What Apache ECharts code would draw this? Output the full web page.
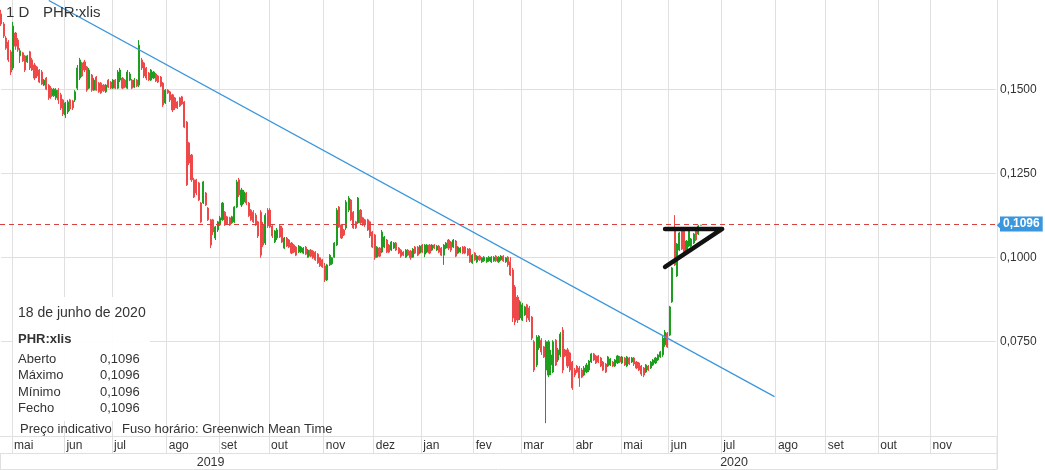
<!DOCTYPE html>
<html><head><meta charset="utf-8">
<script src="https://cdn.jsdelivr.net/npm/echarts@6/dist/echarts.min.js"></script>
<style>html,body{margin:0;padding:0;background:#fff}#c{width:1045px;height:470px}</style>
</head><body><div id="c"></div>
<script>
// ---- data ----
const firstDay = '2019-04-24';
const totalDays = 419; // trading days shown on the axis (data + future)
const holidays = ['2019-05-01','2019-12-25','2019-12-26','2020-01-01','2020-04-10','2020-04-13','2020-05-01'];
const monthNames = ['jan','fev','mar','abr','mai','jun','jul','ago','set','out','nov','dez'];
const lastMonthLabel = '2020-11';
const yTicks = [0.075, 0.1, 0.125, 0.15];
const yearLabelDates = ['2019-08-27', '2020-07-08'];

const openP = [
.1725,.1695,.1653,.1641,.1612,.1564,.1668,.1647,.1600,.1609,
.1600,.1582,.1612,.1588,.1573,.1567,.1558,.1552,.1513,.1534,
.1513,.1504,.1481,.1475,.1498,.1484,.1469,.1424,.1433,.1469,
.1466,.1469,.1504,.1534,.1579,.1582,.1567,.1504,.1543,.1498,
.1537,.1519,.1519,.1513,.1493,.1528,.1522,.1504,.1528,.1504,
.1528,.1534,.1528,.1504,.1528,.1528,.1507,.1528,.1513,.1588,
.1579,.1564,.1549,.1528,.1534,.1546,.1540,.1537,.1519,.1460,
.1498,.1493,.1484,.1475,.1463,.1475,.1478,.1463,.1403,.1341,
.1305,.1231,.1231,.1222,.1162,.1162,.1192,.1147,.1112,.1112,
.1058,.1082,.1097,.1112,.1135,.1121,.1118,.1103,.1106,.1150,
.1231,.1156,.1165,.1192,.1162,.1141,.1135,.1126,.1106,.1135,
.1097,.1043,.1141,.1141,.1094,.1046,.1058,.1094,.1088,.1028,
.1058,.1052,.1043,.1037,.1031,.1016,.1016,.1013,.1031,.1001,
.1022,.1019,.1016,.1010,.0999,.0993,.0975,.0933,.0978,.0981,
.1001,.1037,.1150,.1097,.1082,.1088,.1141,.1171,.1135,.1106,
.1103,.1141,.1118,.1112,.1112,.1106,.1076,.1067,.1001,.1028,
.1016,.1031,.1052,.1037,.1022,.1028,.1043,.1028,.1022,.1016,
.1001,.1022,.1019,.1001,.1031,.1031,.1013,.1037,.1010,.1016,
.1037,.1022,.1037,.1022,.1034,.1028,.1007,.1028,.1052,.1046,
.1031,.1049,.1013,.1016,.1031,.1031,.1025,.1025,.0984,.1013,
.0987,.1004,.0987,.0990,.0987,.0990,.0987,.0990,.1004,.0987,
.0993,.1004,.0987,.1001,.0987,.0963,.0912,.0882,.0820,.0814,
.0829,.0859,.0850,.0823,.0749,.0680,.0731,.0754,.0734,.0665,
.0650,.0680,.0659,.0754,.0695,.0710,.0784,.0725,.0725,.0716,
.0689,.0665,.0677,.0671,.0665,.0650,.0659,.0665,.0689,.0713,
.0707,.0707,.0701,.0689,.0683,.0677,.0680,.0689,.0677,.0686,
.0704,.0686,.0701,.0677,.0701,.0689,.0701,.0689,.0686,.0677,
.0671,.0659,.0677,.0671,.0680,.0686,.0695,.0704,.0710,.0740,
.0775,.0769,.0868,.1082,.0945,.1022,.1079,.1079,.1016,.1034,
.1034,.1043,.1079,.1070,.1096];

const closeP = [
.1695,.1659,.1623,.1588,.1552,.1689,.1629,.1618,.1615,.1585,
.1558,.1600,.1564,.1558,.1534,.1540,.1522,.1516,.1528,.1501,
.1475,.1478,.1501,.1498,.1469,.1445,.1427,.1460,.1463,.1442,
.1445,.1493,.1564,.1588,.1540,.1558,.1498,.1558,.1498,.1528,
.1498,.1493,.1490,.1496,.1513,.1507,.1504,.1528,.1504,.1552,
.1558,.1504,.1507,.1552,.1546,.1504,.1528,.1510,.1632,.1564,
.1540,.1534,.1528,.1558,.1552,.1525,.1522,.1510,.1454,.1498,
.1490,.1469,.1439,.1445,.1445,.1451,.1457,.1388,.1216,.1281,
.1231,.1180,.1192,.1171,.1106,.1225,.1156,.1112,.1037,.1076,
.1091,.1106,.1118,.1162,.1097,.1100,.1097,.1121,.1150,.1225,
.1186,.1201,.1195,.1162,.1124,.1112,.1106,.1097,.1064,.1007,
.1037,.1126,.1094,.1091,.1064,.1079,.1082,.1061,.1046,.1058,
.1034,.1031,.1013,.1016,.1007,.1034,.1031,.1028,.1010,.1022,
.1004,.0999,.0993,.0984,.0975,.0972,.0933,.0978,.1007,.0999,
.1043,.1141,.1091,.1058,.1067,.1165,.1177,.1112,.1088,.1088,
.1177,.1103,.1097,.1097,.1082,.1064,.1031,.0999,.1031,.1004,
.1076,.1061,.1016,.1016,.1046,.1043,.1022,.1013,.1004,.1007,
.1022,.1007,.0999,.1025,.1013,.1007,.1034,.1016,.1037,.1037,
.1013,.1037,.1028,.1034,.1016,.1007,.1037,.1043,.1028,.1022,
.1052,.1004,.1031,.1028,.1013,.1013,.1007,.0987,.1007,.0993,
.1004,.0993,.0999,.1001,.0999,.1001,.1001,.1001,.0990,.1001,
.1004,.0990,.0999,.0978,.0948,.0820,.0808,.0814,.0868,.0859,
.0853,.0820,.0814,.0760,.0665,.0763,.0766,.0719,.0704,.0749,
.0749,.0710,.0749,.0680,.0725,.0772,.0665,.0707,.0677,.0665,
.0612,.0650,.0659,.0641,.0644,.0671,.0680,.0692,.0713,.0695,
.0686,.0689,.0677,.0665,.0659,.0704,.0698,.0677,.0695,.0707,
.0689,.0704,.0680,.0704,.0683,.0701,.0683,.0671,.0665,.0653,
.0650,.0680,.0665,.0689,.0695,.0701,.0710,.0719,.0760,.0778,
.0734,.0853,.0969,.0978,.1040,.1073,.1025,.1016,.1049,.1079,
.1055,.1070,.1052,.1094,.1096];

const lowP = [
.1689,.1653,.1618,.1582,.1543,.1558,.1618,.1612,.1579,.1582,
.1552,.1579,.1558,.1555,.1528,.1534,.1519,.1513,.1510,.1498,
.1469,.1472,.1478,.1469,.1457,.1439,.1421,.1415,.1427,.1436,
.1439,.1463,.1498,.1528,.1537,.1552,.1493,.1501,.1493,.1496,
.1496,.1490,.1487,.1493,.1490,.1504,.1501,.1501,.1501,.1501,
.1522,.1501,.1504,.1501,.1525,.1501,.1504,.1507,.1507,.1558,
.1534,.1528,.1525,.1525,.1531,.1522,.1519,.1507,.1448,.1457,
.1487,.1463,.1433,.1439,.1442,.1448,.1454,.1385,.1213,.1275,
.1225,.1177,.1186,.1168,.1103,.1159,.1153,.1109,.1028,.1067,
.1052,.1076,.1094,.1109,.1094,.1097,.1094,.1100,.1103,.1147,
.1180,.1150,.1159,.1156,.1121,.1109,.1103,.1094,.1058,.0999,
.1031,.1037,.1088,.1088,.1058,.1043,.1052,.1058,.1043,.1025,
.1031,.1028,.1010,.1013,.1004,.1013,.1013,.1010,.1007,.0999,
.1001,.0996,.0990,.0981,.0972,.0969,.0927,.0930,.0975,.0978,
.0999,.1034,.1088,.1055,.1064,.1082,.1135,.1109,.1085,.1085,
.1100,.1100,.1094,.1091,.1079,.1058,.1028,.0993,.0999,.1001,
.1013,.1028,.1013,.1013,.1019,.1025,.1019,.1010,.0999,.1004,
.0999,.1004,.0993,.0999,.1010,.1004,.1010,.1013,.1001,.1013,
.1010,.1019,.1025,.1019,.1013,.1004,.0978,.1025,.1022,.1016,
.1028,.1001,.1010,.1013,.1010,.1010,.1004,.0984,.0981,.0990,
.0984,.0990,.0984,.0987,.0984,.0987,.0984,.0987,.0987,.0984,
.0990,.0987,.0984,.0972,.0945,.0808,.0799,.0805,.0814,.0811,
.0826,.0808,.0808,.0754,.0659,.0674,.0725,.0710,.0701,.0507,
.0644,.0650,.0656,.0677,.0689,.0704,.0656,.0704,.0671,.0659,
.0606,.0644,.0656,.0615,.0641,.0647,.0656,.0659,.0686,.0692,
.0683,.0686,.0674,.0662,.0656,.0674,.0677,.0674,.0674,.0683,
.0686,.0683,.0677,.0674,.0680,.0686,.0677,.0668,.0662,.0647,
.0644,.0656,.0662,.0668,.0677,.0683,.0692,.0701,.0704,.0734,
.0731,.0766,.0865,.0975,.0942,.1019,.1022,.1013,.1013,.1031,
.1031,.1040,.1049,.1067,.1096];

const highP = [
.1737,.1701,.1659,.1647,.1618,.1701,.1671,.1653,.1623,.1612,
.1603,.1603,.1615,.1594,.1579,.1570,.1561,.1558,.1531,.1537,
.1516,.1510,.1504,.1504,.1504,.1490,.1472,.1463,.1469,.1472,
.1469,.1498,.1573,.1594,.1582,.1588,.1570,.1564,.1546,.1534,
.1540,.1522,.1522,.1516,.1516,.1531,.1525,.1531,.1531,.1558,
.1564,.1537,.1531,.1558,.1552,.1531,.1534,.1531,.1647,.1594,
.1582,.1567,.1552,.1561,.1555,.1549,.1543,.1540,.1522,.1501,
.1501,.1496,.1487,.1478,.1466,.1478,.1481,.1466,.1406,.1344,
.1308,.1237,.1234,.1225,.1165,.1228,.1195,.1150,.1115,.1115,
.1094,.1109,.1124,.1165,.1138,.1124,.1121,.1124,.1153,.1231,
.1237,.1207,.1201,.1195,.1165,.1144,.1141,.1132,.1109,.1141,
.1106,.1132,.1147,.1147,.1097,.1082,.1088,.1097,.1094,.1061,
.1061,.1055,.1046,.1040,.1034,.1037,.1034,.1031,.1034,.1025,
.1025,.1022,.1019,.1013,.1001,.0996,.0984,.0981,.1010,.1001,
.1046,.1147,.1153,.1100,.1085,.1171,.1183,.1174,.1138,.1109,
.1180,.1144,.1121,.1115,.1115,.1109,.1079,.1070,.1034,.1031,
.1082,.1064,.1055,.1040,.1049,.1046,.1046,.1031,.1025,.1019,
.1025,.1025,.1022,.1028,.1034,.1034,.1037,.1040,.1040,.1040,
.1040,.1040,.1040,.1037,.1037,.1031,.1040,.1046,.1055,.1049,
.1055,.1052,.1034,.1031,.1034,.1034,.1028,.1028,.1010,.1016,
.1007,.1007,.1001,.1004,.1001,.1004,.1004,.1004,.1007,.1004,
.1007,.1007,.1001,.1004,.1001,.0969,.0918,.0888,.0873,.0865,
.0856,.0862,.0856,.0826,.0754,.0769,.0769,.0760,.0737,.0754,
.0754,.0725,.0754,.0757,.0731,.0778,.0793,.0728,.0731,.0719,
.0692,.0671,.0680,.0677,.0671,.0677,.0686,.0695,.0716,.0716,
.0710,.0710,.0704,.0692,.0686,.0707,.0701,.0692,.0698,.0710,
.0707,.0707,.0704,.0707,.0704,.0704,.0704,.0692,.0689,.0680,
.0674,.0683,.0680,.0692,.0698,.0704,.0713,.0722,.0766,.0784,
.0778,.0856,.0972,.1126,.1043,.1076,.1082,.1082,.1052,.1082,
.1058,.1073,.1082,.1097,.1096];

const lastPrice = 0.1096;
const trendLine = [['2019-05-23', 0.1765], ['2020-07-31', 0.0586]];
const triangle = [['2020-05-28', 0.1085], ['2020-07-01', 0.1085], ['2020-05-28', 0.0972]];
const infoDate = '18 de junho de 2020';
const symbolName = 'PHR:xlis';
const infoLabels = ['Aberto', 'Máximo', 'Mínimo', 'Fecho'];

// ---- build ----
function buildDays() {
  const out = [];
  const d = new Date(firstDay + 'T00:00:00Z');
  while (out.length < totalDays) {
    const wd = d.getUTCDay();
    const s = d.toISOString().slice(0, 10);
    if (wd !== 0 && wd !== 6 && holidays.indexOf(s) < 0) out.push(s);
    d.setUTCDate(d.getUTCDate() + 1);
  }
  return out;
}
const categories = buildDays();
const isMonthStart = i => i > 0 && categories[i].slice(0, 7) <= lastMonthLabel &&
  categories[i].slice(5, 7) !== categories[i - 1].slice(5, 7);
const firstOf2020 = categories.findIndex(s => s.slice(0, 4) === '2020');
const n = Math.min(openP.length, closeP.length, lowP.length, highP.length);
const candleData = [];
for (let i = 0; i < n; i++) candleData.push([openP[i], closeP[i], lowP[i], highP[i]]);
const L = n - 1;
const infoValues = [openP[L], highP[L], lowP[L], closeP[L]];

const FONT = '"Liberation Sans", Arial, sans-serif';
const GRID = '#e0e0e0';
const UP = '#1e9e1e', DOWN = '#ee4848';
const fmt = v => v.toFixed(4).replace('.', ',');

const chart = echarts.init(document.getElementById('c'));
const info = [
  { type: 'rect', shape: { x: 13, y: 297, width: 137, height: 124 }, style: { fill: 'rgba(255,255,255,0.93)' }, z: 100 },
  { type: 'text', x: 18, y: 313, style: { text: infoDate, font: '14px ' + FONT, fill: '#333', verticalAlign: 'middle' }, z: 101 },
  { type: 'text', x: 18, y: 339, style: { text: symbolName, font: 'bold 13px ' + FONT, fill: '#333', verticalAlign: 'middle' }, z: 101 },
  { type: 'text', x: 20, y: 429, style: { text: 'Preço indicativo', font: '13px ' + FONT, fill: '#333', verticalAlign: 'middle' }, z: 101 },
  { type: 'text', x: 122, y: 429, style: { text: 'Fuso horário: Greenwich Mean Time', font: '13px ' + FONT, fill: '#333', verticalAlign: 'middle' }, z: 101 },
  { type: 'line', shape: { x1: 997, y1: 436, x2: 997, y2: 469 }, style: { stroke: GRID, lineWidth: 1 }, z: 50 }
];
infoLabels.forEach((lab, k) => {
  info.push({ type: 'text', x: 18, y: 359 + k * 16.5, style: { text: lab, font: '13px ' + FONT, fill: '#333', verticalAlign: 'middle' }, z: 101 });
  info.push({ type: 'text', x: 100, y: 359 + k * 16.5, style: { text: fmt(infoValues[k]), font: '13px ' + FONT, fill: '#333', verticalAlign: 'middle' }, z: 101 });
});

// horizontal grid lines drawn through the axes as flat line series
const gridSeries = yTicks.map(v => ({
  type: 'line', silent: true, z: 1, symbol: 'none', animation: false,
  data: [[categories[0], v], [categories[categories.length - 1], v]],
  lineStyle: { color: GRID, width: 1 }
}));

chart.setOption({
  animation: false,
  textStyle: { fontFamily: FONT },
  title: [
    { text: '1 D', left: 6, top: 5, padding: 0, textStyle: { fontSize: 15, fontWeight: 'normal', color: '#333', fontFamily: FONT } },
    { text: symbolName, left: 43, top: 5, padding: 0, textStyle: { fontSize: 15, fontWeight: 'normal', color: '#333', fontFamily: FONT } }
  ],
  grid: { left: 0, right: 48, top: 0, bottom: 34 },
  xAxis: [
    {
      type: 'category', data: categories, boundaryGap: true,
      axisLine: { onZero: false, lineStyle: { color: GRID } },
      axisTick: { show: true, interval: i => isMonthStart(i), length: 17, lineStyle: { color: GRID } },
      axisLabel: { interval: i => isMonthStart(i), formatter: v => monthNames[+v.slice(5, 7) - 1], align: 'left', margin: 4, padding: [0, 0, 0, 1], color: '#333', fontSize: 12 },
      splitLine: { show: true, interval: i => isMonthStart(i), lineStyle: { color: GRID } }
    },
    {
      type: 'category', data: categories, position: 'bottom', offset: 17,
      axisLine: { onZero: false, lineStyle: { color: GRID } },
      axisTick: { show: true, interval: i => i === firstOf2020, length: 16, lineStyle: { color: GRID } },
      axisLabel: { interval: i => yearLabelDates.indexOf(categories[i]) >= 0, formatter: v => v.slice(0, 4), margin: 3, color: '#333', fontSize: 12.5 },
      splitLine: { show: false }
    },
    {
      type: 'category', data: categories, position: 'bottom', offset: 33,
      axisLine: { onZero: false, lineStyle: { color: GRID } }, axisTick: { show: false }, axisLabel: { show: false }, splitLine: { show: false }
    }
  ],
  yAxis: {
    type: 'value', position: 'right', min: 0.046875, max: 0.17663, interval: 0.003125, scale: true,
    axisLine: { show: true, onZero: false, lineStyle: { color: GRID } }, axisTick: { show: false }, splitLine: { show: false },
    axisLabel: { margin: 3, color: '#333', fontSize: 12, formatter: v => yTicks.some(t => Math.abs(t - v) < 1e-7) ? fmt(v) : '' }
  },
  graphic: info,
  series: gridSeries.concat([
    {
      type: 'candlestick', data: candleData, barWidth: 1.6, z: 2,
      itemStyle: { color: UP, color0: DOWN, borderColor: UP, borderColor0: DOWN, borderWidth: 1 },
      markLine: {
        silent: true, symbol: 'none', animation: false,
        lineStyle: { color: '#d94040', type: [5, 4], width: 1 },
        label: { show: true, position: 'end', distance: 3, formatter: fmt(lastPrice), color: '#fff', backgroundColor: '#3a96dd', padding: [2, 3, 1, 3], fontSize: 12, fontWeight: 'bold', fontFamily: FONT },
        data: [{ yAxis: lastPrice }]
      },
      markPoint: {
        silent: true, animation: false,
        symbol: 'path://M0,5 L5,0 L5,10 Z', symbolSize: [4, 8], symbolKeepAspect: false, symbolOffset: [3, 0],
        itemStyle: { color: '#3a96dd' }, label: { show: false },
        data: [{ coord: [categories[categories.length - 1], lastPrice] }]
      }
    },
    {
      type: 'line', data: trendLine, symbol: 'none', silent: true, z: 3,
      lineStyle: { color: '#3a96dd', width: 1.2 }
    },
    {
      type: 'line', data: triangle, symbol: 'none', silent: true, z: 4,
      lineStyle: { color: '#111', width: 4.5, cap: 'round', join: 'round' }
    }
  ])
});
</script>
</body></html>
